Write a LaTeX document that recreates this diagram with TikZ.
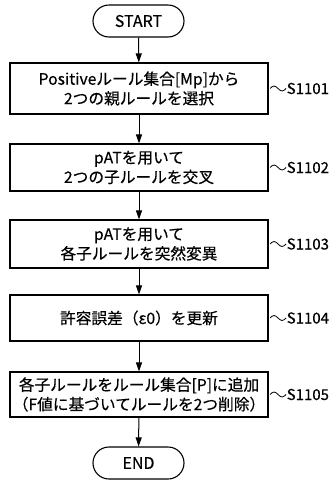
\documentclass[tikz,border=0pt]{standalone}
\usepackage{fontspec}
\setmainfont{Noto Sans CJK JP}[FakeBold=0.35]
\usetikzlibrary{arrows.meta,positioning}
\begin{document}
\begin{tikzpicture}[x=1pt,y=-1pt,
  stepbox/.style={draw,line width=1.1pt,minimum width=258pt,align=center,inner sep=0pt,
    font=\fontsize{15.7}{19.5}\selectfont},
  term/.style={draw,line width=1.1pt,minimum width=91pt,minimum height=32pt,rounded corners=16pt,
    inner sep=0pt,font=\fontsize{16}{18}\selectfont},
  lbl/.style={anchor=west,inner sep=0pt,font=\fontsize{15}{16}\selectfont},
  flow/.style={line width=1pt,-{Triangle[length=9pt,width=6pt]}},
  wave/.style={line width=0.8pt}]
\useasboundingbox (0,0) rectangle (332,480);
\node[term] (start) at (138.5,21) {START};
\node[stepbox,minimum height=51pt] (b1) at (139,88.5) {Positiveルール集合[Mp]から\\2つの親ルールを選択};
\node[stepbox,minimum height=47pt] (b2) at (139,167.5) {pATを用いて\\2つの子ルールを交叉};
\node[stepbox,minimum height=48pt] (b3) at (139,244) {pATを用いて\\各子ルールを突然変異};
\node[stepbox,minimum height=46pt] (b4) at (139,318) {許容誤差（ε0）を更新};
\node[stepbox,minimum height=45pt] (b5) at (139,394.5) {各子ルールをルール集合[P]に追加\\（F値に基づいてルールを2つ削除）};
\node[term] (end) at (138.5,463) {END};
\foreach \b/\t in {b1/S1101,b2/S1102,b3/S1103,b4/S1104,b5/S1105}{
  \node[lbl] (l\b) at ([xshift=18pt]\b.east) {\t};
  \draw[wave] (\b.east) ++(1.5,0) sin ++(4,-2.5) cos ++(4,2.5) sin ++(4,2.5) cos ++(4,-2.5);
}
\draw[flow] (start) -- (b1);
\draw[flow] (b1) -- (b2);
\draw[flow] (b2) -- (b3);
\draw[flow] (b3) -- (b4);
\draw[flow] (b4) -- (b5);
\draw[flow] (b5) -- (end);
\end{tikzpicture}
\end{document}
